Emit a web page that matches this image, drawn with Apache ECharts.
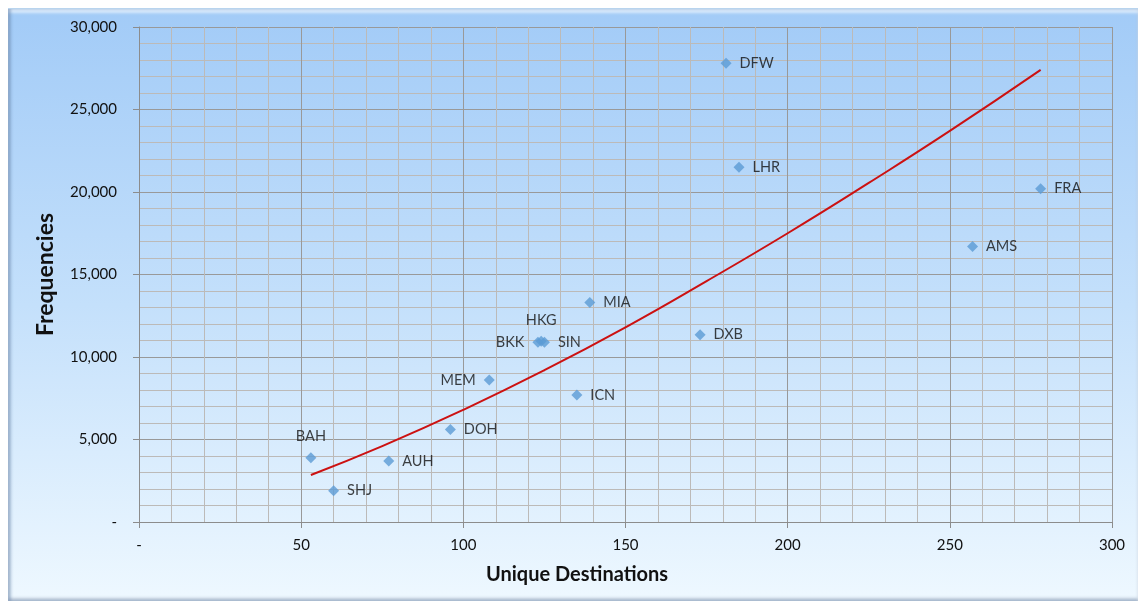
<!DOCTYPE html>
<html><head><meta charset="utf-8">
<script src="https://cdn.jsdelivr.net/npm/echarts@6/dist/echarts.min.js"></script>
<style>
html,body{margin:0;padding:0;background:#fff;width:1138px;height:603px;overflow:hidden;}
#frame{position:absolute;left:8px;top:8px;width:1130px;height:592px;
background:linear-gradient(to bottom,#a2cbf7 0%,#c4e0fb 50%,#eef8ff 100%);
box-shadow: inset 3px 0 3px rgba(90,120,160,0.45), inset 0 4px 3px rgba(255,255,255,0.6), inset 0 -3px 3px rgba(90,110,140,0.35);
border-top:1px solid #b8d4ee;}
#chart{position:absolute;left:0;top:0;width:1138px;height:603px;}
</style></head>
<body>
<div id="frame"></div>
<div id="chart"></div>
<script>
const airports = ['DFW','LHR','FRA','AMS','MIA','DXB','BKK','HKG','SIN','MEM','ICN','DOH','BAH','AUH','SHJ'];
const uniqueDestinations = [181,185,278,257,139,173,123,124,125,108,135,96,53,77,60];
const frequencies = [27800,21500,20200,16700,13300,11350,10900,10950,10900,8600,7700,5600,3900,3700,1900];
const trendX = [53,75,100,125,150,175,200,225,250,278];
const trendY = [2850,4600,6800,9200,11800,14600,17500,20550,23700,27400];
const xTicks = [0,50,100,150,200,250,300];
const yTicks = [0,5000,10000,15000,20000,25000,30000];

const labelPos = {BAH:'top', HKG:'top', BKK:'left', MEM:'left'};
const font = 'Lato, "Open Sans", sans-serif';

const pts = airports.map((n,i)=>({
  name:n, value:[uniqueDestinations[i], frequencies[i]],
  label:{position: labelPos[n] || 'right'}
}));

const chart = echarts.init(document.getElementById('chart'));
chart.setOption({
  animation:false,
  textStyle:{fontFamily:font},
  grid:{left:139, right:26, top:27, bottom:81},
  xAxis:{type:'value', min:xTicks[0], max:xTicks[xTicks.length-1], interval:50,
    axisLine:{show:true, lineStyle:{color:'#8c8c8c', width:1}},
    axisTick:{show:true, length:6, lineStyle:{color:'#8c8c8c'}},
    axisLabel:{color:'#111', fontSize:15, margin:16, fontFamily:font,
      formatter:v=> v===0?'-':String(v)},
    splitLine:{show:true, lineStyle:{color:'#999999', width:1}},
    minorTick:{show:false, splitNumber:5},
    minorSplitLine:{show:true, lineStyle:{color:'#bcbab8', width:1}}
  },
  yAxis:{type:'value', min:yTicks[0], max:yTicks[yTicks.length-1], interval:5000,
    name:'Frequencies', nameLocation:'middle', nameRotate:90, nameGap:82,
    nameTextStyle:{fontSize:23, fontWeight:'bold', color:'#111', fontFamily:font},
    axisLine:{show:true, lineStyle:{color:'#8c8c8c', width:1}},
    axisTick:{show:true, length:6, lineStyle:{color:'#8c8c8c'}},
    axisLabel:{color:'#111', fontSize:15, margin:22, fontFamily:font,
      formatter:v=> v===0?'-':v.toLocaleString('en-US')},
    splitLine:{show:true, lineStyle:{color:'#999999', width:1}},
    minorTick:{show:false, splitNumber:5},
    minorSplitLine:{show:true, lineStyle:{color:'#bcbab8', width:1}}
  },
  graphic:[{type:'text', style:{x:577, y:575, text:'Unique Destinations', align:'center', verticalAlign:'middle', font:'bold 20px '+font, fill:'#111'}}],
  series:[
    {type:'line', data:trendX.map((x,i)=>[x,trendY[i]]), smooth:true, symbol:'none',
      lineStyle:{color:'#cc1111', width:2}, z:3},
    {type:'scatter', data:pts, symbol:'diamond', symbolSize:11,
      itemStyle:{color:'#5b9bd5'}, z:4,
      label:{show:true, formatter:'{b}', color:'#111', fontSize:14.5, distance:8, fontFamily:font}}
  ]
});
</script>
</body></html>
